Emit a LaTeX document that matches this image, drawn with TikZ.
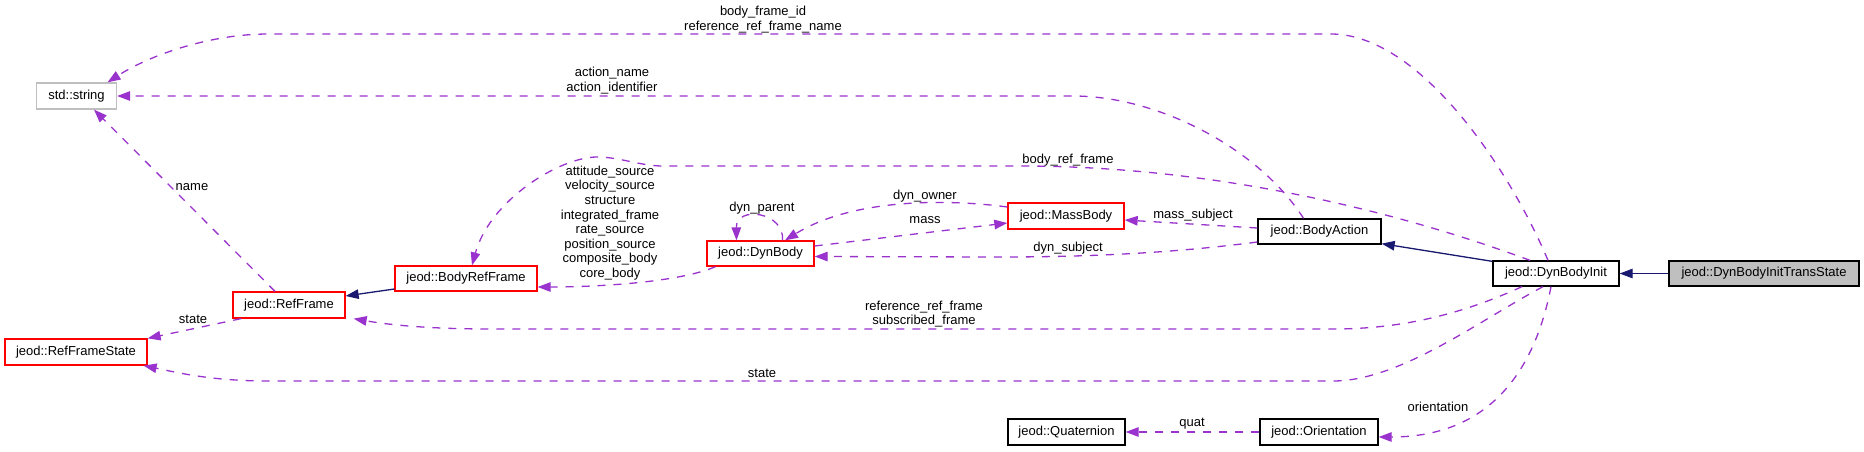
\documentclass[tikz,border=0pt]{standalone}
\usepackage{fontspec}
\setmainfont{Liberation Sans}
\usetikzlibrary{arrows.meta,calc}
\definecolor{edgepurple}{HTML}{9A32CD}
\definecolor{navyline}{HTML}{191970}
\definecolor{grayfill}{HTML}{BFBFBF}
\definecolor{redline}{HTML}{FF0000}
\tikzset{
  box/.style={draw, line width=1.3pt, inner sep=0pt, minimum height=25pt, align=center},
  redbox/.style={box, draw=redline},
  blackbox/.style={box, draw=black},
  graybox/.style={box, draw=grayfill},
  dep/.style={draw=edgepurple, line width=1.3pt, dash pattern=on 8pt off 8pt,
    -{Triangle[length=13pt,width=9.5pt]}},
  inh/.style={draw=navyline, line width=1.3pt, -{Triangle[length=13pt,width=9.5pt]}},
  lbl/.style={inner sep=0pt, align=center}
}
\begin{document}
\begin{tikzpicture}[x=1pt,y=-1pt,font=\fontsize{13}{14.6}\selectfont]
\useasboundingbox (0,0) rectangle (1864,451);
% nodes
\node[graybox, minimum width=80pt, minimum height=26pt] (str) at (76.5,96) {std::string};
\node[redbox, minimum width=112pt, minimum height=26pt] (rf) at (289,305) {jeod::RefFrame};
\node[redbox, minimum width=142pt] (brf) at (466,278.5) {jeod::BodyRefFrame};
\node[redbox, minimum width=142pt, minimum height=26pt] (rfs) at (76,352) {jeod::RefFrameState};
\node[redbox, minimum width=107pt] (db) at (760.5,253.5) {jeod::DynBody};
\node[redbox, minimum width=116pt, minimum height=26pt] (mb) at (1066,216) {jeod::MassBody};
\node[blackbox, minimum width=123pt] (ba) at (1319.5,231.5) {jeod::BodyAction};
\node[blackbox, minimum width=126pt] (dbi) at (1556,273.5) {jeod::DynBodyInit};
\node[blackbox, fill=grayfill, minimum width=190pt] (dbits) at (1764,273.5) {jeod::DynBodyInitTransState};
\node[blackbox, minimum width=118pt, minimum height=26pt] (ori) at (1319,432) {jeod::Orientation};
\node[blackbox, minimum width=117pt, minimum height=26pt] (quat) at (1066.5,432) {jeod::Quaternion};
% inheritance
\draw[inh] (dbits.west) -- (dbi.east);
\draw[inh] ($(dbi.north west)+(0,1)$) -- ($(ba.south east)+(0,-1)$);
\draw[inh] ($(brf.west)+(0,10.5)$) -- ($(rf.east)+(0,-9)$);
% body_frame_id / reference_ref_frame_name
\draw[dep] ($(dbi.north)+(-8,0)$) .. controls (1510,170) and (1420,34) .. (1331,34)
  -- (268,34) .. controls (210,34) and (150,55) .. ($(str.north)+(31,0)$);
\node[lbl] (l1) at (763,19.5) {body\_frame\_id\\reference\_ref\_frame\_name};
% action_name / action_identifier
\draw[dep] ($(ba.north)+(-16,0)$) .. controls (1260,150) and (1160,96) .. (1073,96) -- (str.east);
\node[lbl] (l2) at (612,80.5) {action\_name\\action\_identifier};
% name
\draw[dep] ($(rf.north)+(-14,0)$) -- ($(str.south)+(17.5,0)$);
\node[lbl] (l3) at (192,187) {name};
% state (RefFrame -> RefFrameState)
\draw[dep] ($(rf.south)+(-48,0)$) -- (rfs.north east);
\node[lbl] (l4) at (193,319) {state};
% DynBody -> BodyRefFrame
\draw[dep] ($(db.south)+(-45,0)$) .. controls (680,282) and (600,287) .. ($(brf.east)+(0,8.5)$);
\node[lbl] (l5) at (610,223) {attitude\_source\\velocity\_source\\structure\\integrated\_frame\\rate\_source\\position\_source\\composite\_body\\core\_body};
% body_ref_frame
\draw[dep] ($(dbi.north)+(-26,0)$) .. controls (1380,205) and (1200,166) .. (1021,166)
  -- (663,166) .. controls (640,166) and (620,157) .. (597,157)
  .. controls (560,157) and (490,200) .. ($(brf.north)+(6,0)$);
\node[lbl] (l6) at (1068,160) {body\_ref\_frame};
% reference_ref_frame / subscribed_frame
\draw[dep] ($(dbi.south)+(-34,0)$) .. controls (1460,315) and (1400,329) .. (1333,329)
  -- (491,329) .. controls (430,329) and (390,325) .. ($(rf.south east)+(8,0)$);
\node[lbl] (l7) at (924,314) {reference\_ref\_frame\\subscribed\_frame};
% state (DynBodyInit -> RefFrameState)
\draw[dep] ($(dbi.south)+(-13,0)$) .. controls (1480,320) and (1400,381) .. (1333,381)
  -- (268,381) .. controls (210,381) and (175,372) .. ($(rfs.south east)+(-4,0)$);
\node[lbl] (l8) at (762,373) {state};
% orientation
\draw[dep] ($(dbi.south)+(-5,0)$) .. controls (1535,370) and (1490,437) .. ($(ori.east)+(0,5)$);
\node[lbl] (l9) at (1438,407) {orientation};
% quat
\draw[dep] (ori.west) -- (quat.east);
\node[lbl] (l10) at (1192,424) {quat};
% mass_subject
\draw[dep] ($(ba.west)+(0,-3.5)$) -- ($(mb.east)+(0,4)$);
\node[lbl] (l11) at (1193,215) {mass\_subject};
% dyn_subject
\draw[dep] ($(ba.west)+(0,10.5)$) .. controls (1180,252) and (1100,257) .. (1000,257) -- ($(db.east)+(0,3)$);
\node[lbl] (l12) at (1068,248) {dyn\_subject};
% mass
\draw[dep] ($(db.east)+(0,-7.5)$) -- ($(mb.west)+(0,7)$);
\node[lbl] (l13) at (925,220) {mass};
% dyn_owner
\draw[dep] ($(mb.west)+(0,-9)$) .. controls (940,198) and (850,200) .. ($(db.north)+(24.5,0)$);
\node[lbl] (l14) at (925,196) {dyn\_owner};
% dyn_parent
\draw[dep] ($(db.north)+(22,0)$) .. controls (785,212) and (736,205) .. ($(db.north)+(-24,0)$);
\node[lbl] (l15) at (762,208) {dyn\_parent};
\end{tikzpicture}
\end{document}
